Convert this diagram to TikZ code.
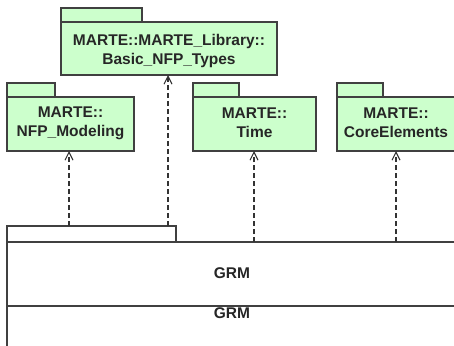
\documentclass[tikz,border=0pt]{standalone}
\usepackage{fontspec}
\setmainfont{Liberation Sans}
\usetikzlibrary{arrows.meta}
\definecolor{pkgfill}{RGB}{204,255,204}
\definecolor{pkgline}{RGB}{64,64,64}
\begin{document}
\begin{tikzpicture}[x=1pt,y=-1pt,
  pkg/.style={draw=pkgline,line width=1.4pt,fill=pkgfill},
  plain/.style={draw=pkgline,line width=1.4pt},
  lbl/.style={font=\fontsize{15.5}{19}\selectfont\bfseries,align=center,text=black!85,inner sep=0pt},
  dep/.style={draw=black!80,line width=1.3pt,dash pattern=on 5pt off 3pt,-{Straight Barb[length=8pt,width=8pt,line width=1.1pt]}}]
\useasboundingbox (0,0) rectangle (454,345);
\begin{scope}
\clip (0,0) rectangle (454,345);
% top package
\draw[pkg] (61,8) rectangle (142,22);
\draw[pkg] (61,22) rectangle (277,75);
\node[lbl] (basic) at (169,50.5) {MARTE::MARTE\_Library::\\Basic\_NFP\_Types};
\coordinate (basicB) at (168,75);
% NFP
\draw[pkg] (7,83) rectangle (55,97);
\draw[pkg] (7,97) rectangle (134,151);
\node[lbl] (nfp) at (70.5,123) {MARTE::\\NFP\_Modeling};
\coordinate (nfpB) at (69,151);
% Time
\draw[pkg] (193,83) rectangle (239,97);
\draw[pkg] (193,97) rectangle (316,151);
\node[lbl] (time) at (254.5,123) {MARTE::\\Time};
\coordinate (timeB) at (254,151);
% CoreElements
\draw[pkg] (337,83) rectangle (383,97);
\draw[pkg] (337,97) rectangle (470,151);
\node[lbl] (core) at (396,123) {MARTE::\\CoreElements};
\coordinate (coreB) at (396,151);
% GRM
\draw[plain,fill=white] (7,226) rectangle (176,242);
\draw[plain,fill=white] (7,242) rectangle (470,306);
\node[lbl] (grm) at (232,273) {GRM};
\draw[plain] (7,306) -- (470,306);
\draw[plain] (7,306) -- (7,350);
\node[lbl] (grm2) at (232,313) {GRM};
\coordinate (g1) at (69,226);
\coordinate (g2) at (168,226);
\coordinate (g3) at (254,242);
\coordinate (g4) at (396,242);
% dependencies
\draw[dep] (g1) -- (nfpB);
\draw[dep] (g2) -- (basicB);
\draw[dep] (g3) -- (timeB);
\draw[dep] (g4) -- (coreB);
\end{scope}
\end{tikzpicture}
\end{document}
